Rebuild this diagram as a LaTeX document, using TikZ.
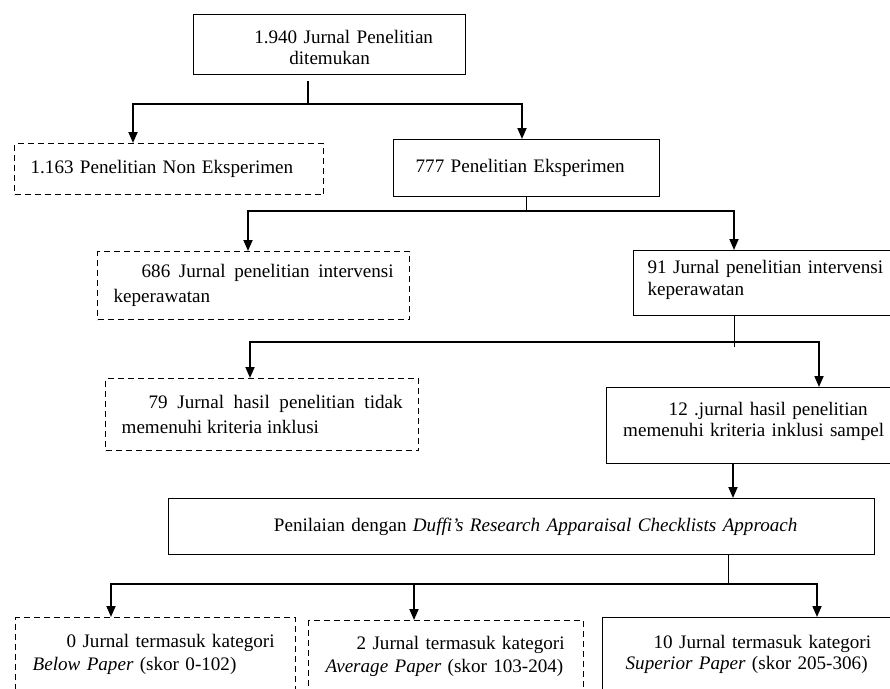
\documentclass[tikz,border=0pt]{standalone}
\usepackage{fontspec}
\setmainfont{Liberation Serif}
\usetikzlibrary{arrows.meta}
\newcommand{\bx}[1]{\fontsize{19.1pt}{#1pt}\selectfont}

\begin{document}
\begin{tikzpicture}[x=1pt,y=-1pt]
   \tikzstyle{Box} = [draw,line width=1.3pt,rectangle,anchor=north west,
     inner ysep=0pt,font=\bx{24}]
   \tikzstyle{DBox} = [Box,dash pattern=on 6pt off 4pt]
   \tikzstyle{Bus} = [draw,line width=1.8pt]
   \tikzstyle{Thin} = [draw,line width=1pt]
   \tikzstyle{Arr} = [Bus,-{Triangle[width=9pt,length=11pt]}]
   \fill [white] (0,0) rectangle (890,688);
   \path [use as bounding box,clip] (0,0) rectangle (890,688);
   %%
   \node [Box,minimum width=272pt,minimum height=60pt,inner xsep=10pt,
     text width=252pt,align=center,font=\bx{21}] (top) at (193,14)
     {\rule{0pt}{19pt}\hspace*{28pt}1.940 Jurnal Penelitian\\ ditemukan};
   \node [DBox,minimum width=309pt,minimum height=51pt,inner xsep=16pt,
     text width=277pt,align=left] (nonex) at (14,143)
     {\mbox{1.163 Penelitian Non Eksperimen}};
   \node [Box,minimum width=266pt,minimum height=57pt,inner xsep=22pt,
     text width=222pt,align=left] (ex) at (393,139)
     {\mbox{777 Penelitian Eksperimen}};
   \node [DBox,minimum width=312pt,minimum height=68pt,inner xsep=16pt,
     text width=280pt,align=justify,font=\bx{25}] (out1) at (97,251)
     {\hspace*{28pt}686 Jurnal penelitian intervensi keperawatan};
   \node [Box,minimum width=267pt,minimum height=65pt,inner xsep=14pt,
     text width=239pt,align=left,font=\bx{22}] (in1) at (633,250)
     {\mbox{91 Jurnal penelitian intervensi}\\ keperawatan\rule[-10pt]{0pt}{0pt}};
   \node [DBox,minimum width=313pt,minimum height=72pt,inner xsep=16pt,
     text width=281pt,align=justify,font=\bx{25}] (out2) at (105,378)
     {\hspace*{27pt}79 Jurnal hasil penelitian tidak memenuhi kriteria inklusi};
   \node [Box,minimum width=294pt,minimum height=76pt,inner xsep=8pt,
     text width=278pt,align=center,font=\bx{21}] (in2) at (606,387)
     {\hspace*{29pt}12 .jurnal hasil penelitian\\
      \mbox{memenuhi kriteria inklusi sampel}\rule[-12pt]{0pt}{0pt}};
   \node [Box,minimum width=706pt,minimum height=56pt,inner xsep=8pt,
     text width=690pt,align=center] (duffi) at (168,498)
     {\hspace*{28pt}Penilaian dengan \textit{Duffi's Research Apparaisal Checklists Approach}};
   \node [DBox,minimum width=280pt,minimum height=74pt,inner xsep=17pt,
     text width=246pt,align=left,font=\bx{23}] (below) at (15,617)
     {\hspace*{34pt}\mbox{0 Jurnal termasuk kategori}\\
      \mbox{\textit{Below Paper} (skor 0-102)}};
   \node [DBox,minimum width=275pt,minimum height=71pt,inner xsep=17pt,
     text width=241pt,align=left,font=\bx{23}] (avg) at (308,620)
     {\hspace*{31pt}\mbox{2 Jurnal termasuk kategori}\\
      \mbox{\textit{Average Paper} (skor 103-204)}};
   \node [Box,minimum width=292pt,minimum height=74pt,inner xsep=23pt,
     text width=246pt,align=left,font=\bx{21}] (sup) at (602,617)
     {\hspace*{28pt}\mbox{10 Jurnal termasuk kategori}\\
      \mbox{\textit{Superior Paper} (skor 205-306)}};
   %%
   \coordinate (j1) at (308,104); \coordinate (j2) at (526,211);
   \coordinate (j3) at (734,342); \coordinate (j5) at (728,584);
   \coordinate (x4) at (733,0);
   \draw [Bus] (top.south -| j1) ++(0,6) -- (j1);
   \draw [Arr] (j1) -| (nonex.north -| 133,0);
   \draw [Arr] (j1) -| (ex.north -| 522,0);
   \draw [Thin] (ex.south -| j2) -- (j2);
   \draw [Arr] (j2) -| (out1.north -| 248,0);
   \draw [Arr] (j2) -| (in1.north -| 734,0);
   \draw [Thin] (in1.south -| j3) -- ++(0,31);
   \draw [Arr] (j3) -| (out2.north -| 250,0);
   \draw [Arr] (j3) -| (in2.north -| 819,0);
   \draw [Arr] (in2.south -| x4) -- (duffi.north -| x4);
   \draw [Thin] (duffi.south -| j5) -- (j5);
   \draw [Arr] (j5) -| (below.north -| 111,0);
   \draw [Arr] (j5) -| (avg.north -| 414,0);
   \draw [Arr] (j5) -| (sup.north -| 817,0);
\end{tikzpicture}
\end{document}
